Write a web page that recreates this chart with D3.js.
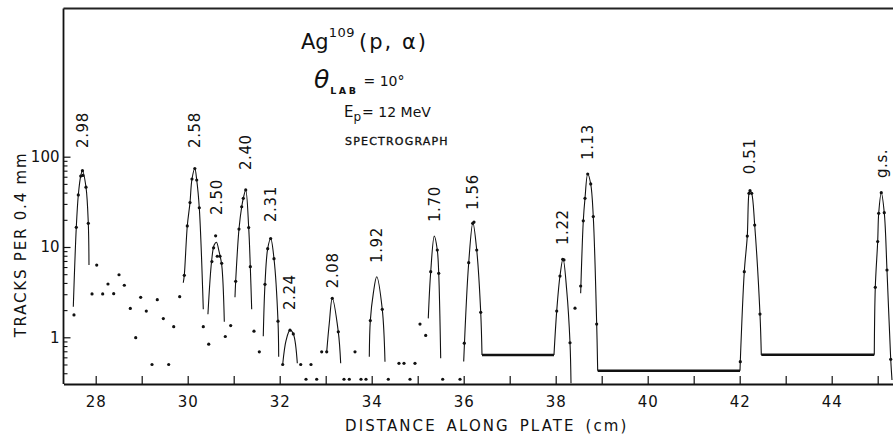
<!DOCTYPE html>
<html>
<head>
<meta charset="utf-8">
<script src="https://cdn.jsdelivr.net/npm/d3@7"></script>
<style>
  html, body { margin: 0; padding: 0; background: #fff; }
  svg { display: block; font-family: "DejaVu Sans", sans-serif; }
</style>
</head>
<body>
<svg id="chart" width="893" height="437"></svg>
<script>
// Ag109(p,α) alpha spectrum: tracks per 0.4 mm along the spectrograph plate.

// Measured counts (plate position in cm, tracks per 0.4 mm)
const dotPos = [
  27.528, 27.578, 27.622, 27.674, 27.712, 27.72, 27.789, 27.839,
  27.92, 28.022, 28.152, 28.267, 28.391, 28.507, 28.622, 28.752, 28.87, 28.978, 29.10, 29.224, 29.339, 29.47, 29.587, 29.696, 29.826,
  29.926, 29.991, 30.05, 30.093, 30.155, 30.196, 30.252, 30.339,
  30.457, 30.526, 30.563, 30.607, 30.643, 30.702, 30.739, 30.817, 30.935,
  31.043, 31.115, 31.174, 31.209, 31.261, 31.326, 31.361, 31.441, 31.557,
  31.68, 31.739, 31.804, 31.876, 31.963,
  32.065, 32.224, 32.296, 32.457, 32.572, 32.68, 32.804,
  32.913, 33.022, 33.143, 33.274, 33.398, 33.513, 33.637, 33.767, 33.876,
  33.97, 34.23, 34.361, 34.593, 34.702, 34.833, 34.941,
  35.05, 35.174, 35.283, 35.426, 35.457, 35.543, 35.92,
  36.013, 36.109, 36.196, 36.224, 36.283, 36.37,
  38.022, 38.093, 38.152, 38.18, 38.311, 38.42,
  38.543, 38.6, 38.637, 38.696, 38.761, 38.817, 38.891,
  42.013, 42.1, 42.165, 42.202, 42.224, 42.261, 42.326, 42.441,
  44.948, 45.0, 45.022, 45.078, 45.143, 45.202, 45.283
];
const dotTracks = [
  1.77, 16.5, 37.7, 61, 70, 62, 46, 18.3,
  3.02, 6.3, 3.02, 3.89, 3.04, 4.93, 3.77, 2.09, 0.99, 2.77, 1.95, 0.50, 2.61, 1.61, 0.50, 1.31, 2.82,
  4.86, 17.1, 31, 56.6, 74, 55.2, 27.2, 1.31,
  0.84, 6.9, 9.8, 13.3, 7.9, 7.9, 6.6, 1.02, 1.35,
  4.17, 15.8, 27.9, 34.6, 42.8, 16.4, 6.05, 1.17, 0.69,
  3.86, 9.58, 12.4, 7.42, 1.51,
  0.50, 1.2, 1.09, 0.5, 0.343, 0.5, 0.343,
  0.69, 0.69, 2.7, 1.15, 0.343, 0.343, 0.69, 0.343, 0.343,
  1.53, 2.04, 0.343, 0.515, 0.515, 0.343, 0.515,
  1.40, 1.05, 5.33, 9.26, 5.11, 0.343, 0.343,
  0.86, 6.7, 18.3, 18.9, 9.26, 1.89,
  1.95, 4.77, 7.3, 7.2, 0.87, 2.1,
  3.7, 19.5, 34.6, 64.3, 49.9, 21.7, 1.40,
  0.537, 5.33, 13.2, 39.3, 42, 39.3, 17.5, 1.81,
  3.58, 11.5, 23.6, 39.9, 24.0, 5.56, 0.57
];

// Excitation energies (MeV) of the resolved levels, one hand-drawn line shape each
const levels = ["2.98", "2.58", "2.50", "2.40", "2.31", "2.24", "2.08", "1.92", "1.70", "1.56", "1.22", "1.13", "0.51", "g.s."];
const fitPos = [
  [27.513, 27.578, 27.622, 27.674, 27.712, 27.789, 27.839, 27.854],
  [29.904, 29.926, 29.991, 30.05, 30.093, 30.155, 30.196, 30.252, 30.339],
  [30.44, 30.52, 30.575, 30.625, 30.68, 30.74, 30.796],
  [31.028, 31.043, 31.115, 31.174, 31.209, 31.261, 31.326, 31.361, 31.391],
  [31.643, 31.68, 31.739, 31.804, 31.876, 31.963, 31.978],
  [32.065, 32.14, 32.224, 32.296, 32.383],
  [33.022, 33.078, 33.143, 33.274, 33.326],
  [33.948, 33.97, 34.035, 34.109, 34.23, 34.289],
  [35.23, 35.283, 35.361, 35.426, 35.457, 35.5],
  [36.0, 36.109, 36.20, 36.283, 36.37, 36.398],
  [37.963, 38.022, 38.093, 38.16, 38.24, 38.311, 38.333],
  [38.543, 38.6, 38.637, 38.696, 38.761, 38.817, 38.891, 38.913],
  [42.007, 42.013, 42.1, 42.165, 42.202, 42.224, 42.261, 42.326, 42.441, 42.47],
  [44.926, 44.948, 45.0, 45.022, 45.078, 45.143, 45.202, 45.283, 45.311]
];
const fitTracks = [
  [2.18, 16.5, 37.7, 61, 70, 46, 18.3, 6.3],
  [4.02, 4.86, 17.1, 31, 56.6, 74, 55.2, 27.2, 2.04],
  [1.8, 7.0, 10.5, 11.3, 9.0, 6.3, 1.49],
  [2.77, 4.17, 15.8, 27.9, 34.6, 42.8, 16.4, 6.05, 2.04],
  [1.03, 3.86, 9.58, 12.4, 7.42, 1.51, 0.61],
  [0.5, 0.93, 1.2, 1.09, 0.515],
  [0.69, 1.43, 2.7, 1.15, 0.515],
  [0.61, 1.53, 3.07, 4.69, 2.04, 0.537],
  [1.62, 5.33, 13.2, 9.26, 5.11, 0.585],
  [0.54, 6.7, 18.5, 9.26, 1.89, 0.637],
  [0.637, 1.95, 4.77, 7.4, 3.3, 0.87, 0.31],
  [3.07, 19.5, 34.6, 64.3, 49.9, 21.7, 1.40, 0.427],
  [0.427, 0.537, 5.33, 13.2, 39.3, 42, 39.3, 17.5, 1.81, 0.637],
  [0.64, 3.58, 11.5, 23.6, 39.9, 24.0, 5.56, 0.57, 0.337]
];
// Count level at which each energy label begins (tracks per 0.4 mm)
const labelTracks = [125, 125, 22.6, 71, 18.9, 2.0, 3.5, 6.65, 18.9, 25.7, 10.5, 92, 64, 58];

// Flat background levels between the far peaks
const plateauFrom = [36.398, 38.913, 42.47];
const plateauTo = [37.963, 42.007, 44.926];
const plateauTracks = [0.637, 0.427, 0.64];

// Axis ticks
const xTickValues = d3.range(28, 46, 1);
const xTickLabels = [28, 30, 32, 34, 36, 38, 40, 42, 44];
const yMajorTicks = [1, 10, 100];
const yMinorTicks = [0.4, 0.5, 0.6, 0.7, 0.8, 0.9, 2, 3, 4, 5, 6, 7, 8, 9, 20, 30, 40, 50, 60, 70, 80, 90];

(function draw() {
  const svg = d3.select("#chart");
  const W = 893, H = 437;
  const mL = 63.5, mT = 8.5, mB = 384, mR = 900;

  const x = d3.scaleLinear().domain([27.3, 45.485]).range([mL, mR]);
  const y = d3.scaleLog().domain([0.304, 4375]).range([mB, mT]);

  svg.append("rect").attr("width", W).attr("height", H).attr("fill", "#fff");

  svg.append("defs").append("clipPath").attr("id", "plot")
    .append("rect").attr("x", mL).attr("y", mT).attr("width", mR - mL).attr("height", mB - mT);

  // X axis with inward ticks
  const xAxis = d3.axisBottom(x)
    .tickValues(xTickValues)
    .tickSize(-8)
    .tickSizeOuter(0)
    .tickPadding(12)
    .tickFormat(d => xTickLabels.includes(d) ? d : "");
  const gx = svg.append("g").attr("transform", `translate(0,${mB})`).call(xAxis);
  gx.select(".domain").attr("stroke", "#111").attr("stroke-width", 1.8);
  gx.selectAll(".tick line").attr("stroke", "#111").attr("stroke-width", 1.2);
  gx.selectAll(".tick text").attr("font-size", 15).attr("font-family", "DejaVu Sans, sans-serif")
    .attr("letter-spacing", 1).attr("fill", "#111");

  // Y axis: minor ticks, then labelled decades
  const yMinor = d3.axisLeft(y).tickValues(yMinorTicks).tickSize(-4).tickSizeOuter(0).tickFormat("");
  const gyMinor = svg.append("g").attr("transform", `translate(${mL},0)`).call(yMinor);
  gyMinor.select(".domain").remove();
  gyMinor.selectAll(".tick line").attr("stroke", "#111").attr("stroke-width", 1.1);

  const yMajor = d3.axisLeft(y).tickValues(yMajorTicks).tickSize(-7).tickSizeOuter(0).tickPadding(4)
    .tickFormat(d3.format("d"));
  const gy = svg.append("g").attr("transform", `translate(${mL},0)`).call(yMajor);
  gy.select(".domain").remove();
  gy.selectAll(".tick line").attr("stroke", "#111").attr("stroke-width", 1.2);
  gy.selectAll(".tick text").attr("font-size", 15).attr("font-family", "DejaVu Sans, sans-serif").attr("fill", "#111");

  // Frame: left and top edges
  svg.append("line").attr("x1", mL).attr("x2", mL).attr("y1", mT).attr("y2", mB)
    .attr("stroke", "#111").attr("stroke-width", 1.8);
  svg.append("line").attr("x1", mL).attr("x2", W).attr("y1", mT).attr("y2", mT)
    .attr("stroke", "#222").attr("stroke-width", 2);

  const plot = svg.append("g").attr("clip-path", "url(#plot)");

  // Line shapes through the counts
  const line = d3.line()
    .x(d => x(d[0]))
    .y(d => y(d[1]))
    .curve(d3.curveCatmullRom.alpha(0.5));

  plot.selectAll("path.fit")
    .data(fitPos.map((xs, i) => xs.map((v, j) => [v, fitTracks[i][j]])))
    .join("path")
    .attr("class", "fit")
    .attr("d", line)
    .attr("fill", "none")
    .attr("stroke", "#111")
    .attr("stroke-width", 1.1);

  // Background plateaus
  plot.selectAll("line.plateau")
    .data(plateauFrom.map((a, i) => ({ a, b: plateauTo[i], v: plateauTracks[i] })))
    .join("line")
    .attr("class", "plateau")
    .attr("x1", d => x(d.a)).attr("x2", d => x(d.b))
    .attr("y1", d => y(d.v)).attr("y2", d => y(d.v))
    .attr("stroke", "#111").attr("stroke-width", 2.6);

  // Individual counts
  plot.selectAll("circle.pt")
    .data(dotPos.map((p, i) => [p, dotTracks[i]]))
    .join("circle")
    .attr("class", "pt")
    .attr("cx", d => x(d[0])).attr("cy", d => y(d[1]))
    .attr("r", 1.6).attr("fill", "#111");

  // Energy labels above each peak, reading upward
  levels.forEach((lab, i) => {
    const ys = fitTracks[i];
    const k = ys.indexOf(d3.max(ys));
    const px = x(fitPos[i][k]);
    const py = y(labelTracks[i]);
    svg.append("text")
      .attr("transform", `translate(${px},${py}) rotate(-90)`)
      .attr("dy", "0.36em")
      .attr("font-size", 15)
      .attr("letter-spacing", 0.6)
      .attr("fill", "#111")
      .text(lab);
  });

  // Reaction and run conditions
  const note = svg.append("g").attr("fill", "#111");
  const t1 = note.append("text").attr("x", 301).attr("y", 49).attr("font-size", 21);
  t1.append("tspan").text("Ag");
  t1.append("tspan").attr("font-size", 13).attr("dy", -12).attr("letter-spacing", 0.5).text("109");
  t1.append("tspan").attr("dy", 12).attr("dx", 4).attr("letter-spacing", 2).text("(p, α)");

  const t2 = note.append("text").attr("x", 314).attr("y", 88);
  t2.append("tspan").attr("font-size", 25).attr("font-style", "italic").text("θ");
  t2.append("tspan").attr("font-size", 9.5).attr("font-weight", "bold").attr("letter-spacing", 2.5)
    .attr("dy", 6).attr("dx", 1).text("LAB");
  t2.append("tspan").attr("font-size", 14).attr("dy", -8).attr("dx", 5).text("= 10°");

  const t3 = note.append("text").attr("x", 344).attr("y", 117);
  t3.append("tspan").attr("font-size", 15).text("E");
  t3.append("tspan").attr("font-size", 12).attr("dy", 4).text("p");
  t3.append("tspan").attr("font-size", 14).attr("dy", -4).attr("dx", 1).text("= 12 MeV");

  note.append("text").attr("x", 345).attr("y", 145).attr("font-size", 11)
    .attr("stroke", "#111").attr("stroke-width", 0.35)
    .attr("letter-spacing", 1.2).text("SPECTROGRAPH");

  // Axis titles
  svg.append("text").attr("x", 345).attr("y", 431).attr("font-size", 15)
    .attr("letter-spacing", 2.1).attr("word-spacing", 3).attr("fill", "#111")
    .text("DISTANCE ALONG PLATE (cm)");
  svg.append("text")
    .attr("transform", `translate(25.5,244.5) rotate(-90)`)
    .attr("text-anchor", "middle")
    .attr("font-size", 15).attr("letter-spacing", 1.8).attr("fill", "#111")
    .text("TRACKS PER 0.4 mm");
})();
</script>
</body>
</html>
